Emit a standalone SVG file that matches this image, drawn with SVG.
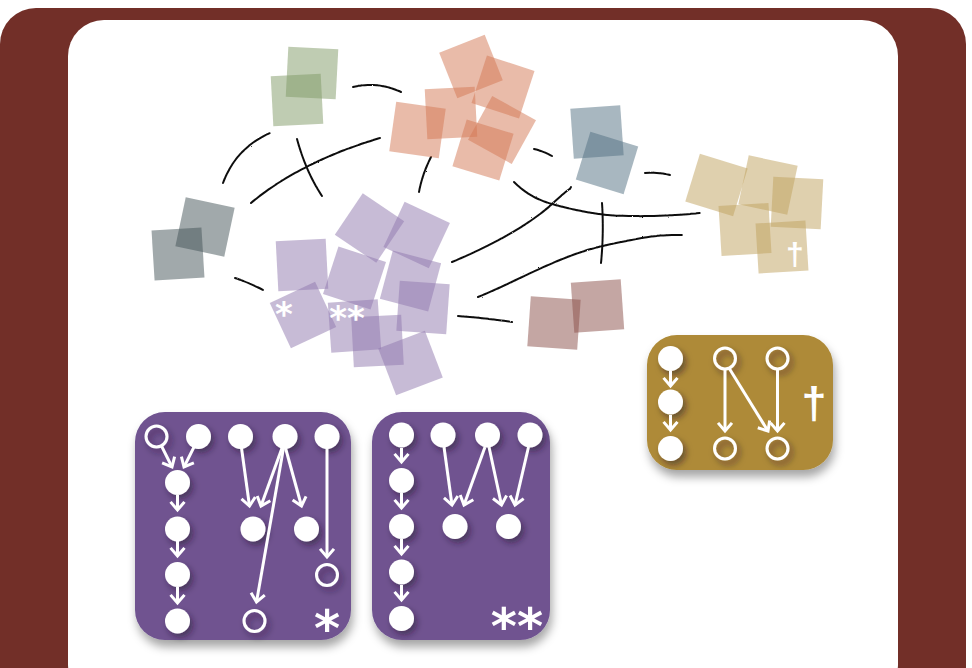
<svg xmlns="http://www.w3.org/2000/svg" width="972" height="668" viewBox="0 0 972 668">
<style>
.sq{stroke:none}
.gr{fill:#7F9965;fill-opacity:.5}
.sa{fill:#D37753;fill-opacity:.5}
.bl{fill:#516F81;fill-opacity:.5}
.dg{fill:#435357;fill-opacity:.5}
.pu{fill:#8F77AD;fill-opacity:.5}
.ta{fill:#BFA15D;fill-opacity:.5}
.mv{fill:#894D47;fill-opacity:.5}
.sk{fill:none;stroke:#111;stroke-width:2;stroke-linecap:round;stroke-dasharray:5 0.5 3 0.4 6 0.5}
.f{fill:#fff}
.h{fill:none;stroke:#fff;stroke-width:3}
.a{fill:none;stroke:#fff;stroke-width:3;marker-end:url(#ah)}
.lbl{fill:#fff;font-family:"DejaVu Sans",sans-serif;font-weight:bold}
.dag{fill:#fff;font-family:"Liberation Sans",sans-serif;font-weight:bold}
</style>
<defs>
<marker id="ah" viewBox="-10 -8 12 16" refX="0" refY="0" markerWidth="12" markerHeight="16" markerUnits="userSpaceOnUse" orient="auto" overflow="visible">
<path d="M-7,-6 L0,0 L-7,6" fill="none" stroke="#fff" stroke-width="3" stroke-linecap="square"/>
</marker>
<filter id="ps" x="-20%" y="-20%" width="140%" height="140%"><feDropShadow dx="2" dy="7" stdDeviation="5" flood-color="#000" flood-opacity="0.35"/></filter>
<filter id="cs" x="-60%" y="-60%" width="220%" height="220%"><feDropShadow dx="3" dy="4" stdDeviation="3" flood-color="#1a0f2a" flood-opacity="0.5"/></filter>
<filter id="rough" x="-5%" y="-20%" width="110%" height="140%"><feTurbulence type="fractalNoise" baseFrequency="1.2" numOctaves="2" seed="3"/><feDisplacementMap in="SourceGraphic" scale="1.6"/></filter>
</defs>
<rect x="0" y="8" width="966" height="700" rx="36" fill="#722F28"/>
<rect x="68" y="20" width="830" height="680" rx="36" fill="#fff"/>

<g id="connectors" filter="url(#rough)">
<path class="sk" d="M353,87 Q377,81 401,92"/>
<path class="sk" d="M223,183 Q236,148 270,133"/>
<path class="sk" d="M251,203 Q300,162 380,138"/>
<path class="sk" d="M297,139 Q306,172 322,196"/>
<path class="sk" d="M431,157 Q422,175 419,192"/>
<path class="sk" d="M235,278 Q250,283 263,290"/>
<path class="sk" d="M534,149 Q543,151 552,156"/>
<path class="sk" d="M645,173 Q657,172 670,175"/>
<path class="sk" d="M514,182 Q530,198 552,204 Q580,212 607,215 Q650,218 700,213"/>
<path class="sk" d="M452,262 C490,246 528,226 552,204 S568,192 571,187"/>
<path class="sk" d="M478,297 C520,280 560,255 607,245 S660,235 682,235"/>
<path class="sk" d="M602,203 Q604,233 601,263"/>
<path class="sk" d="M458,316 Q485,318 512,322"/>
</g>

<g id="green-cluster">
<rect class="gr" x="-25" y="-25" width="50" height="50" transform="translate(312,73) rotate(3)"/>
<rect class="gr" x="-25" y="-25" width="50" height="50" transform="translate(297,100) rotate(-3)"/>
</g>
<g id="salmon-cluster">
<rect class="sa" x="-24.5" y="-24.5" width="49" height="49" transform="translate(471,66.5) rotate(-21.7)"/>
<rect class="sa" x="-25" y="-25" width="50" height="50" transform="translate(503,87) rotate(18)"/>
<rect class="sa" x="-25" y="-25" width="50" height="50" transform="translate(451,113) rotate(-3)"/>
<rect class="sa" x="-25" y="-25" width="50" height="50" transform="translate(417.5,130) rotate(8)"/>
<rect class="sa" x="-25" y="-25" width="50" height="50" transform="translate(502,130) rotate(29)"/>
<rect class="sa" x="-24.5" y="-24.5" width="49" height="49" transform="translate(483,150) rotate(17)"/>
</g>
<g id="blue-cluster">
<rect class="bl" x="-25" y="-25" width="50" height="50" transform="translate(597,132) rotate(-4)"/>
<rect class="bl" x="-25" y="-25" width="50" height="50" transform="translate(607,163) rotate(17)"/>
</g>
<g id="tan-cluster">
<rect class="ta" x="-25" y="-25" width="50" height="50" transform="translate(716.5,185) rotate(17)"/>
<rect class="ta" x="-25" y="-25" width="50" height="50" transform="translate(768,185) rotate(12)"/>
<rect class="ta" x="-25" y="-25" width="50" height="50" transform="translate(797,203) rotate(3)"/>
<rect class="ta" x="-25" y="-25" width="50" height="50" transform="translate(745,229.5) rotate(-3.5)"/>
<rect class="ta" x="-25" y="-25" width="50" height="50" transform="translate(782,247) rotate(-3.5)"/>
<text class="dag" x="795" y="265" font-size="32" text-anchor="middle">†</text>
</g>
<g id="gray-cluster">
<rect class="dg" x="-25" y="-25" width="50" height="50" transform="translate(205,227) rotate(12)"/>
<rect class="dg" x="-25" y="-25" width="50" height="50" transform="translate(178,254) rotate(-3.5)"/>
</g>
<g id="purple-cluster">
<rect class="pu" x="-25" y="-25" width="50" height="50" transform="translate(369.5,228) rotate(34)"/>
<rect class="pu" x="-25" y="-25" width="50" height="50" transform="translate(416.7,235) rotate(25)"/>
<rect class="pu" x="-25" y="-25" width="50" height="50" transform="translate(302,265) rotate(-3)"/>
<rect class="pu" x="-25" y="-25" width="50" height="50" transform="translate(354.5,278) rotate(18)"/>
<rect class="pu" x="-25" y="-25" width="50" height="50" transform="translate(410.5,281) rotate(15)"/>
<rect class="pu" x="-25" y="-25" width="50" height="50" transform="translate(423,307.5) rotate(4)"/>
<rect class="pu" x="-25" y="-25" width="50" height="50" transform="translate(303,315) rotate(-25)"/>
<rect class="pu" x="-25" y="-25" width="50" height="50" transform="translate(354.5,326) rotate(-4)"/>
<rect class="pu" x="-25" y="-25" width="50" height="50" transform="translate(377.5,341) rotate(-3)"/>
<rect class="pu" x="-25" y="-25" width="50" height="50" transform="translate(410.5,363) rotate(-21)"/>
<text class="lbl" x="284" y="326" font-size="34" text-anchor="middle">*</text>
<text class="lbl" x="347" y="330" font-size="34" text-anchor="middle">**</text>
</g>
<g id="mauve-cluster">
<rect class="mv" x="-25" y="-25" width="50" height="50" transform="translate(554,323) rotate(4)"/>
<rect class="mv" x="-25" y="-25" width="50" height="50" transform="translate(597.5,306) rotate(-4)"/>
</g>

<g id="panel-star">
<rect x="135" y="412" width="216" height="228" rx="30" fill="#6F5390" filter="url(#ps)"/>
<g filter="url(#cs)">
<circle class="h" cx="156.5" cy="436.5" r="10.5"/>
<circle class="f" cx="198.5" cy="436.5" r="12.5"/>
<circle class="f" cx="240.5" cy="436.5" r="12.5"/>
<circle class="f" cx="285" cy="436.5" r="12.5"/>
<circle class="f" cx="327" cy="436.5" r="12.5"/>
<circle class="f" cx="177.5" cy="482.5" r="12.5"/>
<circle class="f" cx="177.5" cy="529" r="12.5"/>
<circle class="f" cx="177.5" cy="574.5" r="12.5"/>
<circle class="f" cx="177.5" cy="621" r="12.5"/>
<circle class="f" cx="253" cy="529" r="12.5"/>
<circle class="f" cx="306.5" cy="529" r="12.5"/>
<circle class="h" cx="327" cy="575" r="10.5"/>
<circle class="h" cx="254.5" cy="621" r="10.5"/>
</g>
<path class="a" d="M161,445 L172,467"/>
<path class="a" d="M194,447 L184,467"/>
<path class="a" d="M177.5,495 L177.5,510"/>
<path class="a" d="M177.5,541 L177.5,556"/>
<path class="a" d="M177.5,587 L177.5,603"/>
<path class="a" d="M241.5,448 L249.5,506"/>
<path class="a" d="M282,448 L261,506"/>
<path class="a" d="M285.5,448 L301.5,506"/>
<path class="a" d="M283.5,448 L256.5,602"/>
<path class="a" d="M327,448 L327,557"/>
<text class="lbl" x="327" y="646" font-size="50" text-anchor="middle">*</text>
</g>

<g id="panel-dstar">
<rect x="372" y="412" width="178" height="228" rx="30" fill="#6F5390" filter="url(#ps)"/>
<g filter="url(#cs)">
<circle class="f" cx="401.5" cy="435" r="12.5"/>
<circle class="f" cx="443" cy="435" r="12.5"/>
<circle class="f" cx="487.5" cy="435" r="12.5"/>
<circle class="f" cx="530" cy="435" r="12.5"/>
<circle class="f" cx="401.5" cy="480.5" r="12.5"/>
<circle class="f" cx="401.5" cy="526.5" r="12.5"/>
<circle class="f" cx="401.5" cy="572" r="12.5"/>
<circle class="f" cx="401.5" cy="618.5" r="12.5"/>
<circle class="f" cx="455" cy="526.5" r="12.5"/>
<circle class="f" cx="508.5" cy="526.5" r="12.5"/>
</g>
<path class="a" d="M401.5,448 L401.5,462"/>
<path class="a" d="M401.5,493 L401.5,508"/>
<path class="a" d="M401.5,539 L401.5,554"/>
<path class="a" d="M401.5,585 L401.5,600"/>
<path class="a" d="M444,447 L452,505"/>
<path class="a" d="M485,447 L464,505"/>
<path class="a" d="M489,447 L501.5,505"/>
<path class="a" d="M528.5,447 L515,505"/>
<text class="lbl" x="517" y="644" font-size="50" text-anchor="middle">**</text>
</g>

<g id="panel-dagger">
<rect x="647" y="335" width="186" height="135" rx="30" fill="#AE8A37" filter="url(#ps)"/>
<g filter="url(#cs)">
<circle class="f" cx="670.5" cy="358.5" r="12.5"/>
<circle class="f" cx="670.5" cy="402" r="12.5"/>
<circle class="f" cx="670.5" cy="448.5" r="12.5"/>
<circle class="h" cx="725" cy="358.5" r="10.5"/>
<circle class="h" cx="725" cy="448.5" r="10.5"/>
<circle class="h" cx="777.5" cy="358.5" r="10.5"/>
<circle class="h" cx="777.5" cy="448.5" r="10.5"/>
</g>
<path class="a" d="M670.5,371 L670.5,386"/>
<path class="a" d="M670.5,415 L670.5,430"/>
<path class="a" d="M725,369 L725,431"/>
<path class="a" d="M729,368 L768,431"/>
<path class="a" d="M777.5,369 L777.5,431"/>
<text class="dag" x="814" y="418" font-size="45" text-anchor="middle">†</text>
</g>
</svg>
